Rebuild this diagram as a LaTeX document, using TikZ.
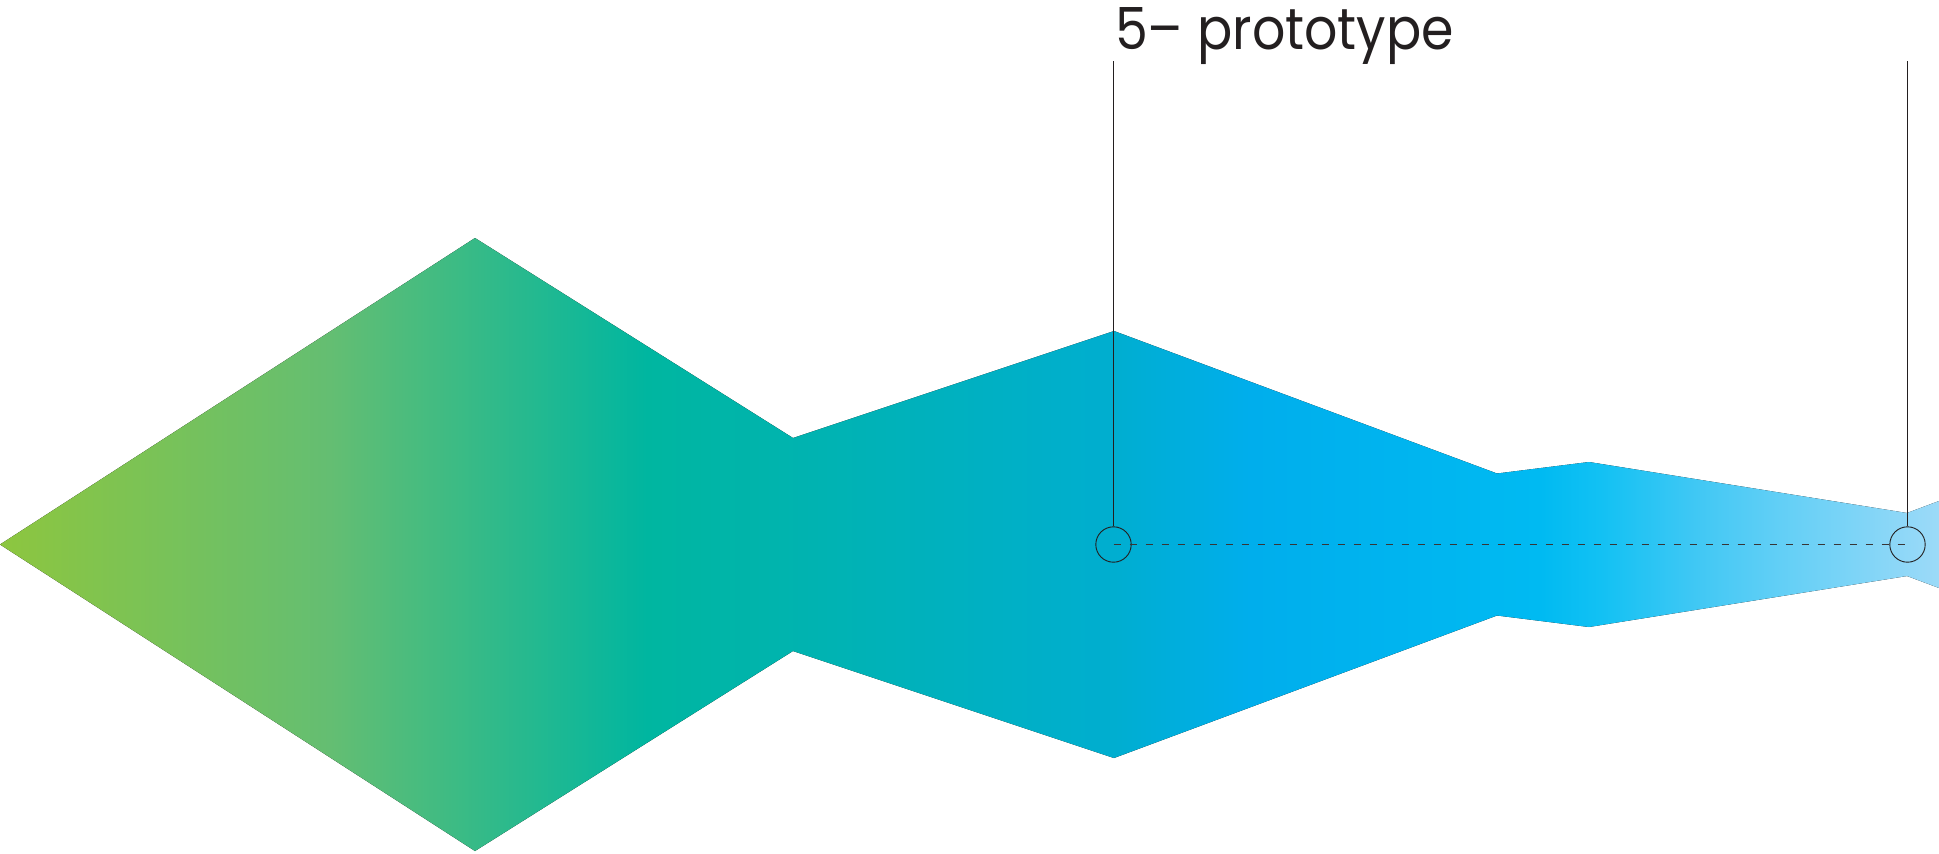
\documentclass[tikz,border=0pt]{standalone}
\usepackage{fontspec}
\setmainfont{Poppins}
\usepackage{tikz}
\usetikzlibrary{calc}
\usetikzlibrary{positioning}
\definecolor{inkline}{HTML}{231F20}
\definecolor{flowA}{HTML}{8DC63F}
\definecolor{flowB}{HTML}{64BE72}
\definecolor{flowC}{HTML}{00B6A0}
\definecolor{flowD}{HTML}{00AED0}
\definecolor{flowE}{HTML}{00AEEC}
\definecolor{flowF}{HTML}{00BAF2}
\definecolor{flowG}{HTML}{12C1F3}
\definecolor{flowH}{HTML}{42C8F4}
\definecolor{flowI}{HTML}{62CFF6}
\definecolor{flowJ}{HTML}{9CDAF8}
\pgfdeclarehorizontalshading{flow}{100bp}{
	color(0bp)=(flowA); color(25bp)=(flowA);
	color(33.51bp)=(flowB); color(41.68bp)=(flowC);
	color(53.73bp)=(flowD); color(57.23bp)=(flowE);
	color(64.71bp)=(flowF); color(66.26bp)=(flowG);
	color(68.84bp)=(flowH); color(70.90bp)=(flowI);
	color(75bp)=(flowJ); color(100bp)=(flowJ)
}
\tikzset{
	marker/.style={
		draw=inkline,
		circle,
		line width=0.9pt,
		inner sep=0pt,
		minimum size=35.4pt,
	},
	leader/.style={
		draw=inkline,
		line width=0.9pt,
	},
	guide/.style={
		draw=inkline!90,
		line width=1pt,
		dash pattern=on 7.5pt off 8.5pt,
	},
	caption/.style={
		text=inkline,
		inner sep=0pt,
		font=\fontsize{58}{64}\selectfont,
	},
}

\begin{document}
\begin{tikzpicture}[x=1pt,y=-1pt]
		\useasboundingbox (0,0) rectangle (1939,854);

		% the flow band
		\fill[shading=flow] (0,544.5) -- (475,238) -- (793,438) -- (1114,331)
			-- (1497,473.5) -- (1589,462) -- (1907,513) -- (1939,501)
			-- (1939,588) -- (1907,576) -- (1589,627) -- (1497,615.5)
			-- (1114,758) -- (793,651) -- (475,851) -- cycle;

		\node[marker] (stage5) at (1113.5,544.5) {};
		\node[marker] (stageend) at (1907.5,544.5) {};
		\coordinate (top5) at (1113.5,60.7);
		\coordinate (topend) at (1907.5,60.7);

		\node[caption, anchor=base west] (protolabel) at (1115,49) {\scalebox{0.9}[1]{5– prototype}};

		\draw[leader] (stage5) -- (top5);
		\draw[leader] (stageend) -- (topend);
		\draw[guide] (stage5.center) -- (stageend.center);

	\end{tikzpicture}
\end{document}
